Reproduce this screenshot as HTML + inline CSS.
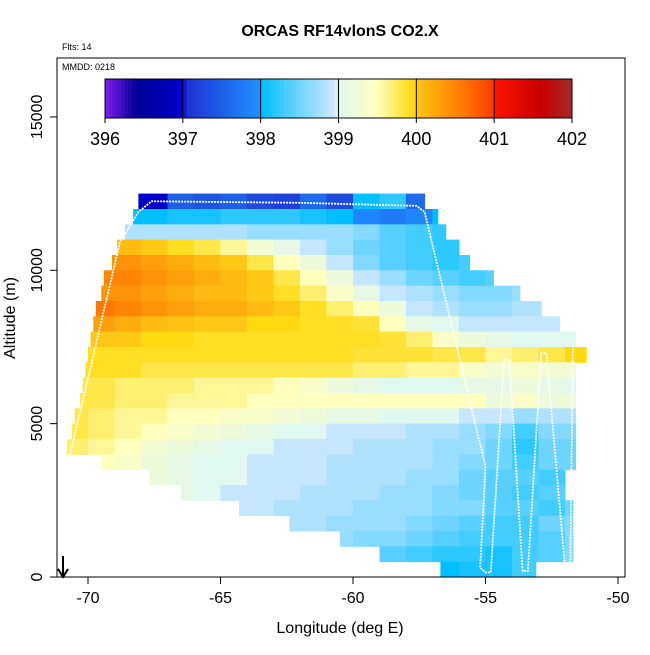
<!DOCTYPE html>
<html><head><meta charset="utf-8">
<style>
body{margin:0;background:#fff;}
svg text{font-family:"Liberation Sans",Arial,sans-serif;}
</style></head>
<body>
<svg id="chart" width="650" height="650" viewBox="0 0 650 650" xmlns="http://www.w3.org/2000/svg">
<text x="340" y="36" text-anchor="middle" font-size="16" font-weight="bold">ORCAS RF14vlonS CO2.X</text>
<text x="62" y="50" font-size="9">Flts: 14</text>
<g id="cells"></g>
<g id="track"></g>
<rect x="57" y="58" width="568" height="519" fill="none" stroke="#000" stroke-width="1"/>
<text x="62" y="70" font-size="9">MMDD: 0218</text>
<g id="cbar"></g>
<g id="axes"></g>
<text x="340" y="633" text-anchor="middle" font-size="16">Longitude (deg E)</text>
<text transform="translate(15,318) rotate(-90)" text-anchor="middle" font-size="16">Altitude (m)</text>
<g><line x1="63" y1="556" x2="63" y2="576" stroke="#000" stroke-width="2"/><path d="M58,569 L63,577 L68,569" fill="none" stroke="#000" stroke-width="2"/></g>
</svg>
<script>
const xTicks=[-70,-65,-60,-55,-50];
const yTicks=[0,5000,10000,15000];
const cbarTicks=[396,397,398,399,400,401,402];
const rowAlt=[12000,11500,11000,10500,10000,9500,9000,8500,8000,7500,7000,6500,6000,5500,5000,4500,4000,3500,3000,2500,2000,1500,1000,500,0];
const rowMin=[-68.1,-68.3,-68.6,-68.9,-69.1,-69.4,-69.5,-69.7,-69.8,-69.9,-70.0,-70.1,-70.2,-70.3,-70.5,-70.6,-70.8,-69.5,-67.7,-66.5,-64.3,-62.4,-60.5,-59.0,-56.7];
const rowMax=[-57.3,-56.8,-56.5,-56.0,-55.6,-54.7,-53.7,-52.9,-52.2,-51.6,-51.2,-51.6,-51.6,-51.6,-51.6,-51.6,-51.6,-51.6,-51.7,-51.7,-51.7,-51.7,-51.7,-51.7,-53.1];
const rowVals=[
[397.0,397.0,397.5,397.4,397.5,397.3,397.2,397.6,397.3,398.0,398.2,397.6],
[398.0,398.0,398.1,398.1,398.2,398.2,398.2,398.1,398.0,397.9,397.8,397.9,398.0],
[398.8,398.8,398.8,398.8,398.8,398.7,398.7,398.7,398.7,398.6,398.4,398.3,398.2],
[400.1,400.0,399.9,399.8,399.6,399.3,399.1,398.9,398.7,398.5,398.4,398.3,398.2],
[400.4,400.4,400.3,400.2,400.1,400.0,399.8,399.5,399.2,398.9,398.6,398.4,398.3,398.2,398.3],
[400.5,400.5,400.4,400.3,400.2,400.1,400.0,399.8,399.5,399.2,398.9,398.7,398.5,398.4,398.3,398.4],
[400.4,400.4,400.3,400.2,400.1,400.1,400.0,399.9,399.7,399.4,399.1,398.9,398.8,398.7,398.6,398.6,398.7],
[400.6,400.5,400.4,400.3,400.2,400.2,400.1,400.0,399.9,399.7,399.5,399.2,398.9,398.8,398.7,398.7,398.8,398.8],
[400.3,400.2,400.1,400.05,400.0,400.0,399.95,399.95,399.9,399.9,399.85,399.5,399.1,399.0,398.9,398.9,398.9,398.9],
[400.0,400.0,399.95,399.95,399.9,399.9,399.9,399.9,399.9,399.9,399.9,399.85,399.7,399.4,399.2,399.1,399.0,399.0,399.0],
[399.9,399.9,399.9,399.9,399.9,399.9,399.9,399.9,399.9,399.9,399.85,399.85,399.85,399.8,399.8,399.6,399.7,399.8,399.95],
[399.9,399.9,399.9,399.8,399.8,399.8,399.8,399.8,399.8,399.8,399.8,399.7,399.7,399.6,399.6,399.4,399.3,399.4,399.3,399.3],
[399.8,399.8,399.7,399.7,399.7,399.6,399.6,399.6,399.5,399.4,399.2,399.1,399.0,399.0,399.0,399.1,399.1,399.2,399.1,399.0],
[399.8,399.8,399.7,399.7,399.6,399.6,399.6,399.5,399.5,399.5,399.5,399.5,399.5,399.5,399.5,399.5,399.2,399.4,399.2,399.2],
[399.8,399.7,399.6,399.6,399.5,399.5,399.4,399.4,399.3,399.2,399.1,399.1,399.0,399.0,399.0,398.9,398.9,398.7,398.8,398.8],
[399.8,399.7,399.6,399.5,399.4,399.3,399.2,399.1,399.0,399.0,398.9,398.9,398.9,398.8,398.8,398.7,398.6,398.3,398.6,398.6],
[399.7,399.6,399.5,399.3,399.2,399.1,399.0,399.0,398.9,398.9,398.9,398.8,398.8,398.8,398.7,398.7,398.5,398.2,398.5,398.5],
[399.5,399.4,399.2,399.1,399.0,399.0,398.9,398.9,398.9,398.8,398.8,398.8,398.8,398.7,398.6,398.5,398.3,398.5,398.5],
[399.2,399.1,399.0,399.0,398.9,398.9,398.9,398.8,398.8,398.8,398.7,398.7,398.5,398.4,398.4,398.3],
[399.1,399.0,398.9,398.9,398.9,398.8,398.8,398.8,398.7,398.7,398.6,398.5,398.4,398.3,398.4],
[398.9,398.9,398.8,398.8,398.8,398.7,398.7,398.7,398.6,398.6,398.4,398.4,398.3,398.5],
[398.8,398.8,398.7,398.7,398.7,398.6,398.5,398.4,398.3,398.3,398.5,398.6],
[398.7,398.6,398.6,398.5,398.4,398.3,398.3,398.3,398.4,398.6],
[398.4,398.3,398.2,398.2,398.1,398.3,398.4,398.6],
[398.0,398.1,398.1,398.3]
];
const trackLon=[-70.7,-68.8,-68.1,-67.6,-62,-57.6,-57.3,-55.0,-55.2,-55.0,-54.8,-54.3,-54.1,-53.6,-53.4,-52.9,-52.7,-52.0,-51.8,-51.7];
const trackAlt=[3900,10900,11900,12250,12200,12100,11900,3600,300,150,150,7100,7100,200,200,7300,7300,300,300,7600];

const NS='http://www.w3.org/2000/svg';
function X(lon){return 88+(lon+70)*26.5;}
function Y(alt){return 577-alt*0.03067;}
const cStops=[[396,[128,32,240]],[396.4,[0,0,150]],[397,[0,0,200]],[397.05,[30,50,210]],[397.99,[30,144,255]],[398.0,[0,191,255]],[398.95,[208,232,255]],[399.0,[225,248,240]],[399.5,[255,255,190]],[399.99,[255,215,0]],[400.0,[255,200,20]],[400.6,[255,120,0]],[400.99,[255,60,0]],[401.0,[255,20,0]],[401.6,[200,0,0]],[402,[165,42,42]]];
function col(v){
  if(v<=cStops[0][0])return 'rgb('+cStops[0][1]+')';
  for(let i=1;i<cStops.length;i++){
    if(v<=cStops[i][0]){const a=cStops[i-1],b=cStops[i];const t=(v-a[0])/(b[0]-a[0]);
      return 'rgb('+a[1].map((c,k)=>Math.round(c+(b[1][k]-c)*t)).join(',')+')';}
  }
  return 'rgb('+cStops[cStops.length-1][1]+')';
}
function mk(tag,attrs,parent){const e=document.createElementNS(NS,tag);for(const k in attrs)e.setAttribute(k,attrs[k]);parent.appendChild(e);return e;}

const cells=document.getElementById('cells');
rowAlt.forEach((alt,r)=>{
  const start=Math.floor(rowMin[r]);
  rowVals[r].forEach((v,i)=>{
    const l0=Math.max(start+i,rowMin[r]), l1=Math.min(start+i+1,rowMax[r]);
    if(l1<=l0)return;
    const x0=X(l0),x1=X(l1),y0=Y(alt+500),y1=Y(alt);
    const e=mk('rect',{x:x0.toFixed(1),y:y0.toFixed(1),width:(x1-x0+0.5).toFixed(1),height:(y1-y0+0.5).toFixed(1),fill:col(v)},cells);
    
    
  });
});

const track=document.getElementById('track');
const tp=mk('polyline',{points:trackLon.map((l,i)=>X(l).toFixed(1)+','+Y(trackAlt[i]).toFixed(1)).join(' '),fill:'none',stroke:'#fff','stroke-width':'1.8','stroke-dasharray':'2 1'},track);



const cb=document.getElementById('cbar');
const cbL=105,cbR=572,cbT=79,cbB=118;
function CX(v){return cbL+(v-396)/6*(cbR-cbL);}
for(let v=396;v<402;v+=0.05){
  const e=mk('rect',{x:CX(v).toFixed(2),y:cbT,width:((cbR-cbL)/120+0.4).toFixed(2),height:cbB-cbT,fill:col(v+0.025)},cb);
  
  
}
mk('rect',{x:cbL,y:cbT,width:cbR-cbL,height:cbB-cbT,fill:'none',stroke:'#000','stroke-width':'1'},cb);
cbarTicks.forEach(t=>{
  mk('line',{x1:CX(t),x2:CX(t),y1:cbT,y2:cbB+5,stroke:'#000','stroke-width':'1'},cb);
  const e=mk('text',{x:CX(t),y:145,'text-anchor':'middle','font-size':'18'},cb);
  e.textContent=t;
  
  
});

const ax=document.getElementById('axes');
xTicks.forEach(t=>{
  mk('line',{x1:X(t),x2:X(t),y1:577,y2:584,stroke:'#000'},ax);
  const e=mk('text',{x:X(t),y:603,'text-anchor':'middle','font-size':'16'},ax);
  e.textContent=t;
  
  
});
yTicks.forEach(t=>{
  mk('line',{x1:50,x2:57,y1:Y(t),y2:Y(t),stroke:'#000'},ax);
  const e=mk('text',{transform:'translate(42,'+Y(t).toFixed(1)+') rotate(-90)','text-anchor':'middle','font-size':'16'},ax);
  e.textContent=t;
  
  
});
</script>
</body></html>
